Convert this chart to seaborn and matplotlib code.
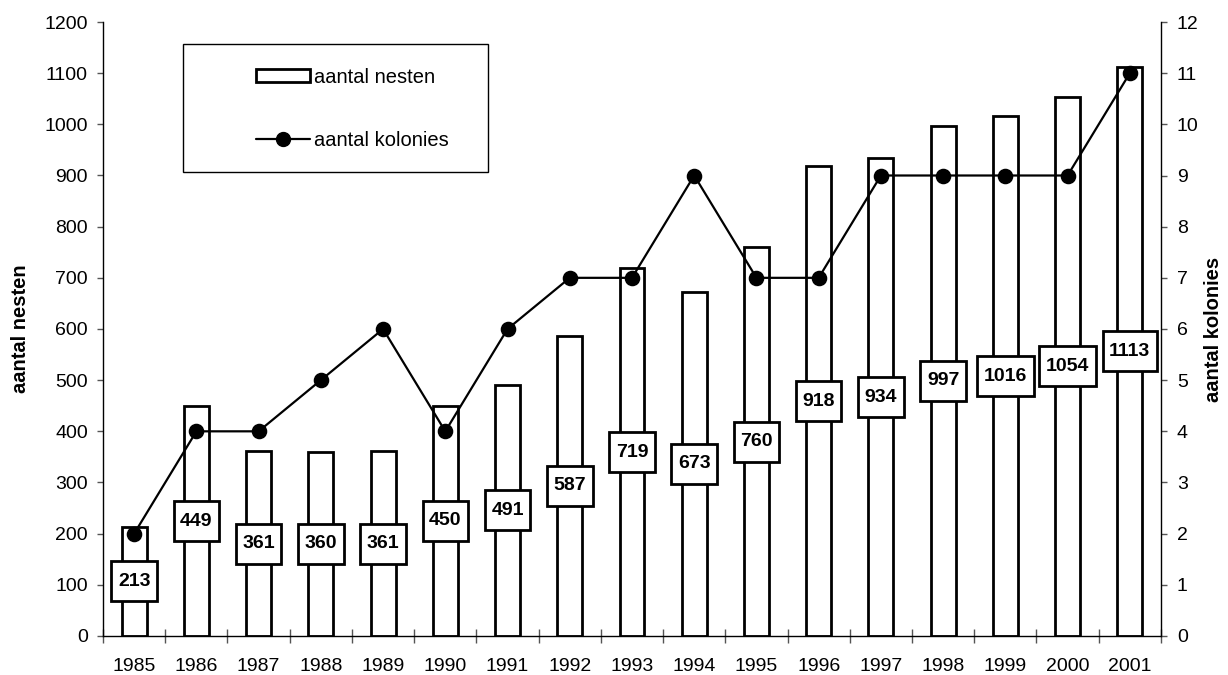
import matplotlib
matplotlib.use("Agg")
import matplotlib.pyplot as plt
import seaborn as sns
import numpy as np
from matplotlib.path import Path
from matplotlib.patches import Patch, Rectangle
from matplotlib.lines import Line2D
from matplotlib.ticker import FixedLocator, MultipleLocator

years = ["1985", "1986", "1987", "1988", "1989", "1990", "1991", "1992", "1993",
         "1994", "1995", "1996", "1997", "1998", "1999", "2000", "2001"]
nesten = [213, 449, 361, 360, 361, 450, 491, 587, 719, 673, 760, 918, 934, 997, 1016, 1054, 1113]
kolonies = [2, 4, 4, 5, 6, 4, 6, 7, 7, 9, 7, 7, 9, 9, 9, 9, 11]

sns.set_theme(style="ticks")
plt.rcParams["font.family"] = ["Liberation Sans", "DejaVu Sans"]
plt.rcParams["text.color"] = "black"
plt.rcParams["axes.labelcolor"] = "black"
plt.rcParams["xtick.color"] = "black"
plt.rcParams["ytick.color"] = "black"
plt.rcParams["xtick.labelcolor"] = "black"
plt.rcParams["ytick.labelcolor"] = "black"

fig = plt.figure(figsize=(12.28, 6.75), dpi=100)
ax = fig.add_axes([0.0839, 0.0578, 0.8615, 0.9096])

sns.barplot(x=years, y=nesten, ax=ax, color="white", edgecolor="black",
            linewidth=2, width=0.4, saturation=1, zorder=2)

ax2 = ax.twinx()
sns.pointplot(x=years, y=kolonies, ax=ax2, color="black", markers="o",
              markersize=10, linewidth=1.6, zorder=3)


def label_box(x0, y0, width, height, mutation_size):
    px, py = 6.5, 11.5
    x0 -= px
    y0 -= py
    x1 = x0 + width + 2 * px
    y1 = y0 + height + 2 * py
    return Path([(x0, y0), (x1, y0), (x1, y1), (x0, y1), (x0, y0)],
                closed=True)


for i, v in enumerate(nesten):
    ax2.text(i, v / 2 / 100.0, str(v), ha="center", va="center",
             fontsize=14, fontweight="bold", zorder=5, color="black",
             bbox=dict(boxstyle=label_box, facecolor="white",
                       edgecolor="black", linewidth=2))

ax.set_xlim(-0.5, len(years) - 0.5)
ax.set_ylim(0, 1200)
ax.yaxis.set_major_locator(MultipleLocator(100))
ax2.set_ylim(0, 12)
ax2.yaxis.set_major_locator(MultipleLocator(1))

ax.set_xticks(range(len(years)))
ax.set_xticklabels(years)
ax.xaxis.set_minor_locator(FixedLocator(np.arange(-0.5, len(years), 1.0)))
ax.tick_params(axis="x", which="major", length=0, labelsize=14, pad=16)
ax.tick_params(axis="x", which="minor", length=9.5, width=1, color="#555555",
               direction="inout")
ax.tick_params(axis="y", length=4, width=1, color="#555555", labelsize=14, pad=7)
ax2.tick_params(axis="y", length=4, width=1, color="#555555", labelsize=14, pad=7.5)

for a in (ax, ax2):
    a.spines["top"].set_visible(False)
    for s in ("left", "right", "bottom"):
        a.spines[s].set_color("black")
        a.spines[s].set_linewidth(1)
ax.spines["right"].set_visible(False)
ax2.spines["left"].set_visible(False)
ax2.spines["bottom"].set_visible(False)

ax.set_xlabel("")
ax.set_ylabel("aantal nesten", fontsize=14.5, fontweight="bold", labelpad=10)
ax2.set_ylabel("aantal kolonies", fontsize=14.5, fontweight="bold", labelpad=4,
               rotation=90)

# legend frame and legend
ax2.add_patch(Rectangle((0.0756, 0.756), 0.2885, 0.208, transform=ax2.transAxes,
                        facecolor="white", edgecolor="black", linewidth=1,
                        zorder=6))
handles = [Patch(facecolor="white", edgecolor="black", linewidth=2),
           Line2D([0], [0], color="black", marker="o", markersize=10, linewidth=1.6)]
leg = ax2.legend(handles, ["aantal nesten", "aantal kolonies"],
                 loc="upper left", bbox_to_anchor=(0.141, 0.932),
                 frameon=False, fontsize=14.5, handlelength=2.65,
                 handleheight=0.6, handletextpad=0.2, labelspacing=2.2,
                 borderpad=0.2, borderaxespad=0)
leg.set_zorder(7)

fig.savefig("out.png", dpi=100)
